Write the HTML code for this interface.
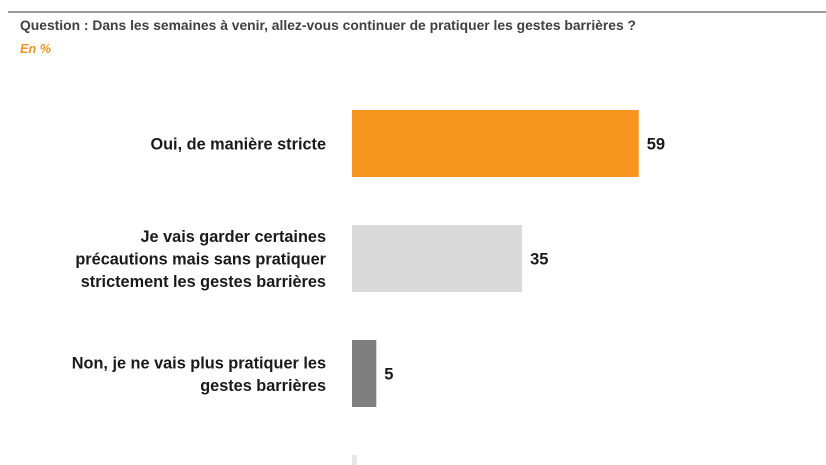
<!DOCTYPE html>
<html><head><meta charset="utf-8"><style>
html,body{margin:0;padding:0;background:#fff;width:826px;height:465px;overflow:hidden;font-family:"Liberation Sans",sans-serif}
svg{display:block}
</style></head><body>
<svg width="826" height="465">
<line x1="8" y1="12" x2="826" y2="12" stroke="#9a9a9a" stroke-width="2"/>
<text x="20" y="30" font-size="13.5" font-weight="bold" fill="#404040" textLength="616" lengthAdjust="spacingAndGlyphs">Question : Dans les semaines à venir, allez-vous continuer de pratiquer les gestes barrières ?</text>
<text x="20" y="53" font-size="13" font-style="italic" font-weight="bold" fill="#f39322" textLength="31" lengthAdjust="spacingAndGlyphs">En %</text>
<g id="bars"></g>
</svg>
<script>
const categories=[["Oui, de manière stricte"],["Je vais garder certaines","précautions mais sans pratiquer","strictement les gestes barrières"],["Non, je ne vais plus pratiquer les","gestes barrières"],[""]];
const values=[59,35,5,1];
const colors=["#f7951f","#d9d9d9","#7f7f7f","#e6e6e6"];
const labels=["59","35","5",""];
const x0=352, pxPerUnit=4.86, y0=110, step=115, barH=67;
const xs=v=>x0+v*pxPerUnit;
const g=document.getElementById('bars');
const ns="http://www.w3.org/2000/svg";
values.forEach((v,i)=>{
  const y=y0+i*step;
  const r=document.createElementNS(ns,'rect');
  r.setAttribute('x',x0);r.setAttribute('y',y);
  r.setAttribute('width',xs(v)-x0);r.setAttribute('height',Math.max(0,Math.min(barH,465-y)));
  r.setAttribute('fill',colors[i]);
  
  
  g.appendChild(r);
  if(labels[i]){
    const t=document.createElementNS(ns,'text');
    t.setAttribute('x',xs(v)+8);t.setAttribute('y',y+barH/2+6);
    t.setAttribute('font-size','16.5');t.setAttribute('font-weight','bold');t.setAttribute('fill','#1a1a1a');
    t.textContent=labels[i];
    
    
    g.appendChild(t);
  }
  const lines=categories[i];
  const lh=22.5;
  lines.forEach((ln,j)=>{
    if(!ln)return;
    const t=document.createElementNS(ns,'text');
    t.setAttribute('x',326);
    t.setAttribute('y',y+barH/2+6-(lines.length-1)*lh/2+j*lh);
    t.setAttribute('text-anchor','end');
    t.setAttribute('font-size','16.3');t.setAttribute('font-weight','bold');t.setAttribute('fill','#1a1a1a');
    t.textContent=ln;
    
    
    g.appendChild(t);
  });
});
</script>
</body></html>
